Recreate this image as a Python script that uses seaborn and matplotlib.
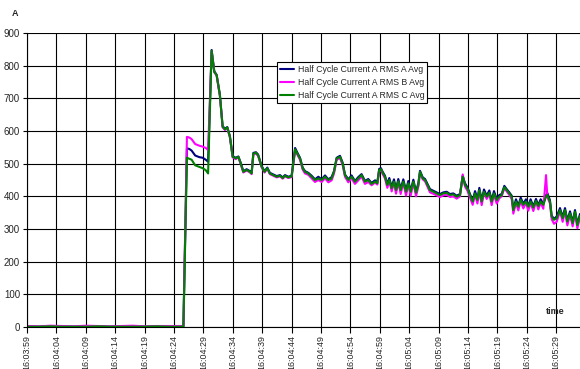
import matplotlib
matplotlib.use("Agg")
import matplotlib.pyplot as plt
import numpy as np
import pandas as pd
import seaborn as sns

# Seconds elapsed since 16:03:59
seconds = [
    0, 2, 4, 6, 8, 10, 12, 14, 16, 18, 20, 22, 24, 26.6,
    27.2, 27.6, 28.0, 28.6, 29.3, 29.9, 30.4, 30.8,
    31.4, 31.85, 32.25, 32.8, 33.27, 33.67, 34.06, 34.5, 34.98, 35.5,
    35.95, 36.34, 36.79, 37.36, 37.93, 38.2, 38.5, 38.94, 39.3, 39.9,
    40.4, 40.87, 41.3, 41.9, 42.46, 43.03, 43.48, 43.88, 44.44, 45.0,
    45.6, 45.97, 46.43, 46.88, 47.28, 47.84, 48.41, 48.98, 49.55, 50.11,
    50.68, 51.25, 51.81, 52.21, 52.66, 53.23, 53.68, 54.08, 54.65, 55.2,
    55.78, 56.35, 56.9, 57.48, 58.04,
    58.6, 59.2, 59.58, 59.9, 60.2, 60.49, 60.88, 61.28, 61.62, 62.02,
    62.41, 62.76, 63.15, 63.55, 64.0, 64.46, 64.85, 65.25, 65.71, 66.16,
    66.56, 66.84, 67.3, 67.7, 68.1, 68.54, 69.1, 69.67, 70.24, 70.8,
    71.37, 71.94, 72.5, 73.07, 73.64, 74.1, 74.49, 74.89, 75.34, 75.8,
    76.2, 76.6, 76.93, 77.33, 77.72, 78.18, 78.63, 79.03, 79.42, 79.88,
    80.33, 80.73, 81.18, 81.58, 82.03, 82.43, 82.71, 83.16, 83.56, 83.96,
    84.41, 84.86, 85.26, 85.65, 86.11, 86.56, 86.96, 87.36, 87.81, 88.27,
    88.5, 88.94, 89.23, 89.63, 90.08, 90.65, 91.1, 91.5, 91.9, 92.35,
    92.8, 93.2, 93.6, 94.05,
]

current_a = [
    2, 1, 3, 2, 1, 2, 3, 1, 2, 2, 1, 3, 2, 2,
    547, 545, 540, 525, 520, 518, 512, 506,
    848, 783, 772, 712, 615, 607, 612, 585, 523, 518,
    522, 503, 477, 483, 477, 472, 533, 535, 528, 493,
    477, 488, 472, 467, 462, 465, 458, 465, 460, 463,
    548, 534, 518, 488, 477, 472, 463, 452, 460, 452,
    464, 452, 459, 477, 518, 524, 503, 467, 452, 464,
    447, 459, 468, 447, 453,
    441, 449, 443, 484, 486, 475, 463, 438, 456, 428,
    452, 422, 453, 422, 452, 417, 447, 417, 451, 414,
    441, 478, 458, 453, 438, 422, 417, 412, 407, 412,
    414, 407, 409, 402, 407, 463, 440, 428, 407, 387,
    416, 392, 426, 387, 421, 402, 418, 387, 416, 392,
    404, 407, 432, 422, 412, 402, 361, 391, 371, 396,
    377, 391, 371, 391, 369, 392, 373, 391, 377, 404,
    410, 388, 341, 331, 338, 364, 337, 364, 326, 354,
    321, 358, 315, 346,
]

current_b = [
    3, 2, 4, 3, 2, 4, 3, 2, 3, 4, 2, 3, 3, 3,
    582, 580, 575, 560, 555, 552, 548, 542,
    844, 780, 770, 708, 611, 603, 609, 581, 519, 514,
    519, 499, 473, 479, 473, 468, 529, 531, 524, 489,
    473, 484, 468, 463, 458, 461, 454, 461, 456, 459,
    540, 528, 512, 482, 470, 466, 455, 444, 450, 444,
    455, 443, 449, 470, 512, 517, 496, 460, 443, 455,
    438, 449, 460, 438, 444,
    434, 442, 436, 478, 480, 468, 455, 426, 446, 415,
    442, 408, 443, 407, 442, 402, 437, 402, 442, 400,
    430, 472, 452, 446, 430, 412, 408, 403, 398, 403,
    405, 398, 400, 393, 400, 467, 430, 418, 396, 374,
    406, 378, 416, 373, 411, 392, 407, 373, 405, 378,
    394, 400, 425, 415, 404, 392, 347, 380, 357, 385,
    363, 380, 356, 380, 355, 383, 360, 380, 362, 465,
    398, 378, 330, 316, 322, 354, 322, 354, 311, 344,
    308, 349, 302, 336,
]

current_c = [
    1, 1, 2, 1, 1, 1, 2, 1, 1, 1, 1, 2, 1, 1,
    518, 515, 512, 495, 490, 486, 480, 470,
    846, 781, 771, 710, 613, 605, 611, 583, 521, 516,
    521, 501, 475, 481, 475, 470, 531, 533, 526, 491,
    475, 486, 470, 465, 460, 463, 456, 463, 458, 461,
    544, 531, 516, 486, 475, 470, 460, 450, 455, 450,
    460, 450, 455, 475, 516, 521, 501, 465, 450, 460,
    445, 455, 465, 445, 450,
    438, 445, 440, 481, 483, 472, 460, 435, 450, 425,
    445, 419, 446, 419, 445, 414, 440, 414, 445, 411,
    435, 475, 455, 450, 435, 419, 414, 409, 404, 409,
    411, 404, 406, 399, 404, 460, 435, 425, 404, 384,
    409, 389, 419, 384, 414, 399, 411, 384, 409, 389,
    399, 404, 428, 419, 409, 399, 358, 384, 368, 389,
    374, 384, 368, 384, 366, 386, 370, 384, 374, 399,
    404, 384, 338, 328, 333, 358, 333, 358, 323, 348,
    318, 353, 312, 340,
]

series_names = [
    "Half Cycle Current A RMS A Avg",
    "Half Cycle Current A RMS B Avg",
    "Half Cycle Current A RMS C Avg",
]
series_colors = ["#000080", "#FF00FF", "#008000"]

tick_seconds = [0, 5, 10, 15, 20, 25, 30, 35, 40, 45, 50, 55, 60, 65, 70, 75, 80, 85, 90]
tick_labels = [
    "16:03:59", "16:04:04", "16:04:09", "16:04:14", "16:04:19", "16:04:24",
    "16:04:29", "16:04:34", "16:04:39", "16:04:44", "16:04:49", "16:04:54",
    "16:04:59", "16:05:04", "16:05:09", "16:05:14", "16:05:19", "16:05:24",
    "16:05:29",
]

frames = []
for name, vals in zip(series_names, [current_a, current_b, current_c]):
    frames.append(pd.DataFrame({"seconds": seconds, "amps": vals, "series": name}))
df = pd.concat(frames, ignore_index=True)

sns.set_theme(style="white")
plt.rcParams["font.family"] = ["Liberation Sans", "DejaVu Sans"]

fig = plt.figure(figsize=(5.8, 3.69), dpi=100)
ax = fig.add_axes([27 / 580, 42 / 369, 553 / 580, 294 / 369])

sns.lineplot(
    data=df, x="seconds", y="amps", hue="series",
    palette=dict(zip(series_names, series_colors)),
    estimator=None, sort=False, linewidth=1.5, ax=ax,
)

ax.set_xlim(0, 94.05)
ax.set_ylim(0, 900)
ax.set_yticks(range(0, 901, 100))
ax.set_xticks(tick_seconds)
ax.set_xticklabels(tick_labels, rotation=90, fontsize=6.4, va="top")
ax.tick_params(axis="y", labelsize=7, length=3, width=0.8, color="black", pad=2, left=True)
ax.tick_params(axis="x", length=4, width=0.8, color="black", pad=2, bottom=True)
ax.set_xlabel("")
ax.set_ylabel("")

ax.grid(True, color="black", linewidth=0.8)
ax.set_axisbelow(True)
for side in ["top", "right"]:
    ax.spines[side].set_visible(False)
for side in ["left", "bottom"]:
    ax.spines[side].set_color("black")
    ax.spines[side].set_linewidth(0.8)

handles, labels = ax.get_legend_handles_labels()
leg = ax.legend(
    handles, labels, loc="upper left", bbox_to_anchor=(250 / 553, 265 / 294),
    fontsize=6.3, frameon=True, fancybox=False, framealpha=1,
    edgecolor="black", handlelength=1.6, handletextpad=0.4,
    labelspacing=0.45, borderpad=0.35, borderaxespad=0,
)
leg.get_frame().set_linewidth(0.8)

fig.text(15 / 580, 1 - 13 / 369, "A", fontsize=6.5, fontweight="bold", ha="center", va="center")
fig.text(555 / 580, 1 - 312 / 369, "time", fontsize=6.5, fontweight="bold", ha="center", va="center")

fig.savefig("out.png", dpi=100)
